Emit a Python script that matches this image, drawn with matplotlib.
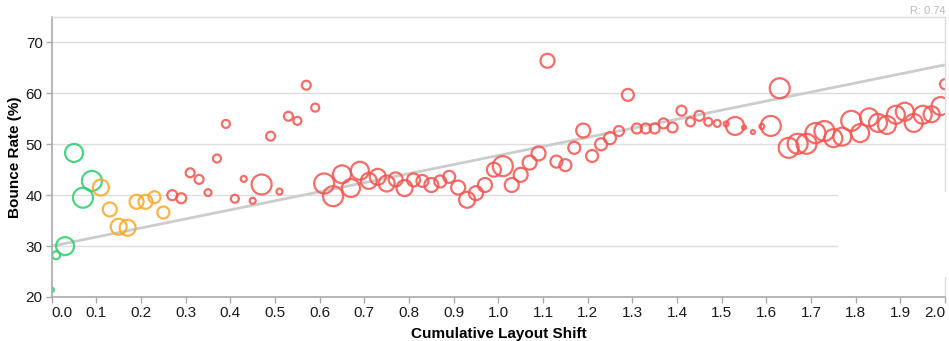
import matplotlib
matplotlib.use("Agg")
import matplotlib.pyplot as plt
from matplotlib.patches import Rectangle
import numpy as np

plt.rcParams['font.family'] = ['Liberation Sans', 'DejaVu Sans']

# cumulative layout shift per bucket
cls = [0.00, 0.01, 0.03, 0.05, 0.07, 0.09, 0.11, 0.13, 0.15, 0.17,
       0.19, 0.21, 0.23, 0.25, 0.27, 0.29, 0.31, 0.33, 0.35, 0.37,
       0.39, 0.41, 0.43, 0.45, 0.47, 0.49, 0.51, 0.53, 0.55, 0.57,
       0.59, 0.61, 0.63, 0.65, 0.67, 0.69, 0.71, 0.73, 0.75, 0.77,
       0.79, 0.81, 0.83, 0.85, 0.87, 0.89, 0.91, 0.93, 0.95, 0.97,
       0.99, 1.01, 1.03, 1.05, 1.07, 1.09, 1.11, 1.13, 1.15, 1.17,
       1.19, 1.21, 1.23, 1.25, 1.27, 1.29, 1.31, 1.33, 1.35, 1.37,
       1.39, 1.41, 1.43, 1.45, 1.47, 1.49, 1.51, 1.53, 1.55, 1.57,
       1.59, 1.61, 1.63, 1.65, 1.67, 1.69, 1.71, 1.73, 1.75, 1.77,
       1.79, 1.81, 1.83, 1.85, 1.87, 1.89, 1.91, 1.93, 1.95, 1.97,
       1.99, 2.00]

# bounce rate (%)
bounce = [21.4, 28.2, 30.0, 48.3, 39.5, 42.8, 41.5, 37.2, 33.8, 33.6,
          38.7, 38.7, 39.6, 36.6, 40.0, 39.4, 44.4, 43.1, 40.5, 47.2,
          54.0, 39.3, 43.2, 38.9, 42.1, 51.6, 40.7, 55.5, 54.6, 61.6,
          57.2, 42.3, 39.8, 44.1, 41.4, 44.8, 42.8, 43.6, 42.3, 43.1,
          41.4, 43.0, 42.8, 42.0, 42.7, 43.6, 41.5, 39.1, 40.4, 42.0,
          45.0, 45.7, 42.0, 44.0, 46.4, 48.2, 66.4, 46.6, 45.9, 49.3,
          52.7, 47.7, 50.0, 51.2, 52.6, 59.7, 53.1, 53.1, 53.1, 54.1,
          53.3, 56.6, 54.4, 55.6, 54.4, 54.1, 54.0, 53.6, 53.3, 52.4,
          53.5, 53.6, 61.0, 49.3, 50.1, 50.1, 52.2, 52.6, 51.2, 51.5,
          54.6, 52.2, 55.3, 54.2, 53.8, 55.8, 56.4, 54.2, 55.8, 55.9,
          57.5, 61.8]

# number of samples in each bucket (drives circle area)
samples = [5, 16, 81, 81, 100, 100, 64, 49, 64, 64,
           49, 49, 36, 36, 25, 25, 20, 20, 12, 16,
           16, 16, 9, 9, 100, 20, 9, 20, 16, 20,
           16, 100, 100, 81, 81, 81, 64, 64, 64, 49,
           64, 42, 36, 49, 36, 36, 49, 64, 49, 49,
           49, 100, 49, 49, 49, 49, 49, 36, 36, 36,
           49, 36, 36, 36, 25, 36, 25, 25, 25, 25,
           25, 25, 20, 25, 16, 12, 6, 81, 4, 4,
           6, 100, 100, 100, 100, 100, 100, 100, 81, 81,
           100, 81, 81, 81, 81, 81, 81, 81, 81, 64,
           81, 25]

trend_x = [0.0, 2.0]
trend_y = [30.0, 65.6]
r_value = 0.74

GREEN = '#2ecc71'
ORANGE = '#f9a825'
RED = '#f4534e'

x = np.array(cls)
y = np.array(bounce)
n = np.array(samples)
colors = np.where(x <= 0.1, GREEN, np.where(x <= 0.25, ORANGE, RED))

fig = plt.figure(figsize=(9.49, 3.41), dpi=100)
ax = fig.add_axes([51.7 / 949, 44 / 341, (945 - 51.7) / 949, (297 - 17) / 341])

ax.set_xlim(0, 2.0)
ax.set_ylim(20, 75)

# grid
for v in [30, 40, 50, 60, 70]:
    ax.axhline(v, color='#dddddd', lw=1, zorder=0)

ax.plot(trend_x, trend_y, color='#cccccc', lw=2, zorder=1, solid_capstyle='butt')

ax.scatter(x, y, s=n * 2.07, facecolors='none', edgecolors=colors,
           linewidths=1.6, alpha=0.85, zorder=2)

for side in ['top', 'right']:
    ax.spines[side].set_color('#dddddd')
    ax.spines[side].set_linewidth(1)
for side in ['left', 'bottom']:
    ax.spines[side].set_color('#aaaaaa')
    ax.spines[side].set_linewidth(1.2)

ax.set_yticks([20, 30, 40, 50, 60, 70])
xt = np.round(np.arange(0, 2.01, 0.1), 1)
ax.set_xticks(xt)
ax.set_xticklabels(['%.1f' % v for v in xt])
ax.tick_params(axis='both', colors='#aaaaaa', labelcolor='#1a1a1a',
               labelsize=11, length=4.5, width=1, pad=2)
labels = ax.get_xticklabels()
labels[0].set_ha('left')
labels[-1].set_ha('right')

ax.set_xlabel('Cumulative Layout Shift', fontsize=11, fontweight='bold', labelpad=5)
ax.set_ylabel('Bounce Rate (%)', fontsize=11, fontweight='bold', labelpad=3)

fig.text(945 / 949, 1 - 11 / 341, 'R: %.2f' % r_value, ha='right', va='center',
         fontsize=8, color='#bbbbbb')

# empty white box covering the lower right of the plot
fig.patches.append(Rectangle((838 / 949, 1 - 277 / 341), 1 - 838 / 949, (277 - 192) / 341,
                             transform=fig.transFigure, facecolor='white',
                             edgecolor='none', zorder=5))

fig.savefig('out.png', dpi=100)
